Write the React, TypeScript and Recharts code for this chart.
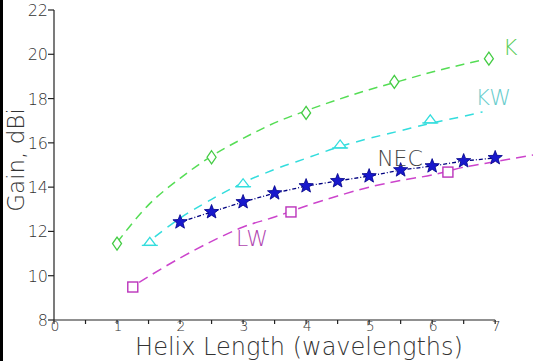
import React from 'react';
import { ComposedChart, Line, Scatter, XAxis, YAxis, ReferenceLine, ReferenceDot } from 'recharts';

// measured points (markers)
const kMarkX = [1, 2.5, 4, 5.4, 6.9];
const kMarkY = [11.45, 15.35, 17.35, 18.75, 19.8];
const kwMarkX = [1.52, 3, 4.54, 5.97];
const kwMarkY = [11.55, 14.2, 15.95, 17.08];
const lwMarkX = [1.25, 3.76, 6.25];
const lwMarkY = [9.49, 12.88, 14.68];
const necX = [2, 2.5, 3, 3.5, 4, 4.5, 5, 5.5, 6, 6.5, 7];
const necY = [12.42, 12.88, 13.33, 13.73, 14.05, 14.28, 14.5, 14.77, 14.95, 15.18, 15.32];

// dashed fit curves
const kCurveX = [1, 1.5, 2, 2.5, 3, 3.5, 4, 4.5, 5, 5.5, 6, 6.5, 6.9];
const kCurveY = [11.5, 13.2, 14.4, 15.4, 16.2, 16.9, 17.45, 17.95, 18.4, 18.8, 19.2, 19.55, 19.8];
const kwCurveX = [1.6, 2, 2.5, 3, 3.5, 4, 4.5, 5, 5.5, 6, 6.5, 6.8];
const kwCurveY = [11.75, 12.6, 13.45, 14.2, 14.8, 15.3, 15.8, 16.2, 16.55, 16.9, 17.2, 17.4];
const lwCurveX = [1.35, 2, 2.5, 3, 3.5, 4, 4.5, 5, 5.5, 6, 6.5, 7, 7.6];
const lwCurveY = [9.7, 10.8, 11.55, 12.2, 12.65, 13.15, 13.6, 14.0, 14.3, 14.55, 14.9, 15.15, 15.45];

const xTicks = [0, 0.5, 1, 1.5, 2, 2.5, 3, 3.5, 4, 4.5, 5, 5.5, 6, 6.5, 7];
const yTicks = [8, 9, 10, 11, 12, 13, 14, 15, 16, 17, 18, 19, 20, 21, 22];

const labels = [
  { text: 'K', x: 7.24, y: 20.33, color: '#55cc55' },
  { text: 'KW', x: 6.97, y: 18.07, color: '#66cccc' },
  { text: 'NEC', x: 5.49, y: 15.32, color: '#444444' },
  { text: 'LW', x: 3.14, y: 11.7, color: '#b044b0' },
];

const zip = (xs: number[], ys: number[]) => xs.map((x, i) => ({ x, y: ys[i] }));

const FONT = '"DejaVu Sans", sans-serif';

const Diamond = ({ cx, cy }: any) => (
  <polygon points={`${cx},${cy - 6.5} ${cx + 4.5},${cy} ${cx},${cy + 6.5} ${cx - 4.5},${cy}`} fill="white" stroke="#44cc44" strokeWidth={1.3} />
);
const Triangle = ({ cx, cy }: any) => (
  <g>
    <polygon points={`${cx - 6},${cy + 4} ${cx + 6},${cy + 4} ${cx},${cy - 4}`} fill="white" stroke="#33dddd" strokeWidth={1.3} />
    <line x1={cx - 8} x2={cx + 8} y1={cy + 4} y2={cy + 4} stroke="#33dddd" strokeWidth={1.3} />
  </g>
);
const Square = ({ cx, cy }: any) => (
  <rect x={cx - 5} y={cy - 5} width={10} height={10} fill="white" stroke="#bb33bb" strokeWidth={1.4} />
);
const Star = ({ cx, cy }: any) => {
  if (cx == null || cy == null) return null;
  const pts: string[] = [];
  for (let i = 0; i < 10; i++) {
    const r = i % 2 === 0 ? 7.5 : 3.2;
    const a = -Math.PI / 2 + (i * Math.PI) / 5;
    pts.push(`${cx + r * Math.cos(a)},${cy + r * Math.sin(a)}`);
  }
  return <polygon points={pts.join(' ')} fill="#1818cc" stroke="#000088" strokeWidth={0.8} />;
};

const YTick = ({ x, y, payload }: any) => {
  const major = payload.value % 2 === 0;
  return (
    <g>
      <line x1={x - 6} x2={x} y1={y} y2={y} stroke="#222" strokeWidth={1.2} />
      {major && (
        <text x={x - 6} y={y + 6} textAnchor="end" fontSize={16} fontFamily={FONT} fontWeight={200} fill="#333">
          {payload.value}
        </text>
      )}
    </g>
  );
};

const XTick = ({ x, y, payload }: any) => {
  const major = Number.isInteger(payload.value);
  return (
    <g>
      <line x1={x} x2={x} y1={y} y2={y + 4} stroke="#222" strokeWidth={1.2} />
      {major && (
        <text x={x + 1} y={y + 11} textAnchor="middle" fontSize={14} fontFamily={FONT} fontWeight={200} fill="#333">
          {payload.value}
        </text>
      )}
    </g>
  );
};

export default function App() {
  return (
    <div style={{ position: 'absolute', left: 0, top: 0, width: 533, height: 361, background: 'white' }}>
      <ComposedChart width={533} height={361} margin={{ top: 10, right: 0, bottom: 0, left: 0 }}>
        <XAxis
          type="number"
          dataKey="x"
          domain={[0, 7.6]}
          ticks={xTicks}
          tick={<XTick />}
          tickSize={0}
          tickMargin={0}
          tickLine={false}
          axisLine={false}
          height={41}
          allowDataOverflow
          label={{
            content: () => (
              <text x={299} y={355} textAnchor="middle" fontSize={24} fontFamily={FONT} fontWeight={200} fill="#333">
                Helix Length (wavelengths)
              </text>
            ),
          }}
        />
        <YAxis
          type="number"
          dataKey="y"
          domain={[8, 22]}
          ticks={yTicks}
          tick={<YTick />}
          tickSize={0}
          tickMargin={0}
          tickLine={false}
          axisLine={{ stroke: '#222', strokeWidth: 1.2 }}
          width={54}
          allowDataOverflow
          label={{
            content: () => (
              <text x={24} y={160} transform="rotate(-90 24 160)" textAnchor="middle" fontSize={23} fontFamily={FONT} fontWeight={200} fill="#333">
                Gain, dBi
              </text>
            ),
          }}
        />
        <ReferenceLine segment={[{ x: 0, y: 8 }, { x: 7, y: 8 }]} stroke="#222" strokeWidth={1.2} />
        <Line data={zip(kCurveX, kCurveY)} dataKey="y" type="monotone" stroke="#55dd55" strokeWidth={1.5} strokeDasharray="9 6" dot={false} isAnimationActive={false} />
        <Line data={zip(kwCurveX, kwCurveY)} dataKey="y" type="monotone" stroke="#33dddd" strokeWidth={1.5} strokeDasharray="9 7" dot={false} isAnimationActive={false} />
        <Line data={zip(lwCurveX, lwCurveY)} dataKey="y" type="monotone" stroke="#cc44cc" strokeWidth={1.5} strokeDasharray="10 6" dot={false} isAnimationActive={false} />
        <Line data={zip(necX, necY)} dataKey="y" type="linear" stroke="#000080" strokeWidth={1.3} strokeDasharray="4 2 1 2" dot={<Star />} activeDot={false} isAnimationActive={false} />
        <Scatter data={zip(kMarkX, kMarkY)} shape={(p: any) => <Diamond cx={p.cx} cy={p.cy} />} isAnimationActive={false} />
        <Scatter data={zip(kwMarkX, kwMarkY)} shape={(p: any) => <Triangle cx={p.cx} cy={p.cy} />} isAnimationActive={false} />
        <Scatter data={zip(lwMarkX, lwMarkY)} shape={(p: any) => <Square cx={p.cx} cy={p.cy} />} isAnimationActive={false} />
        {labels.map((l) => (
          <ReferenceDot
            key={l.text}
            x={l.x}
            y={l.y}
            ifOverflow="visible"
            shape={(p: any) => (
              <text x={p.cx} y={p.cy + 8} textAnchor="middle" fontSize={22} fontFamily={FONT} fontWeight={200} fill={l.color}>
                {l.text}
              </text>
            )}
          />
        ))}
      </ComposedChart>
      <div style={{ position: 'absolute', left: 0, top: 0, width: 3, height: 361, background: 'black' }} />
    </div>
  );
}
